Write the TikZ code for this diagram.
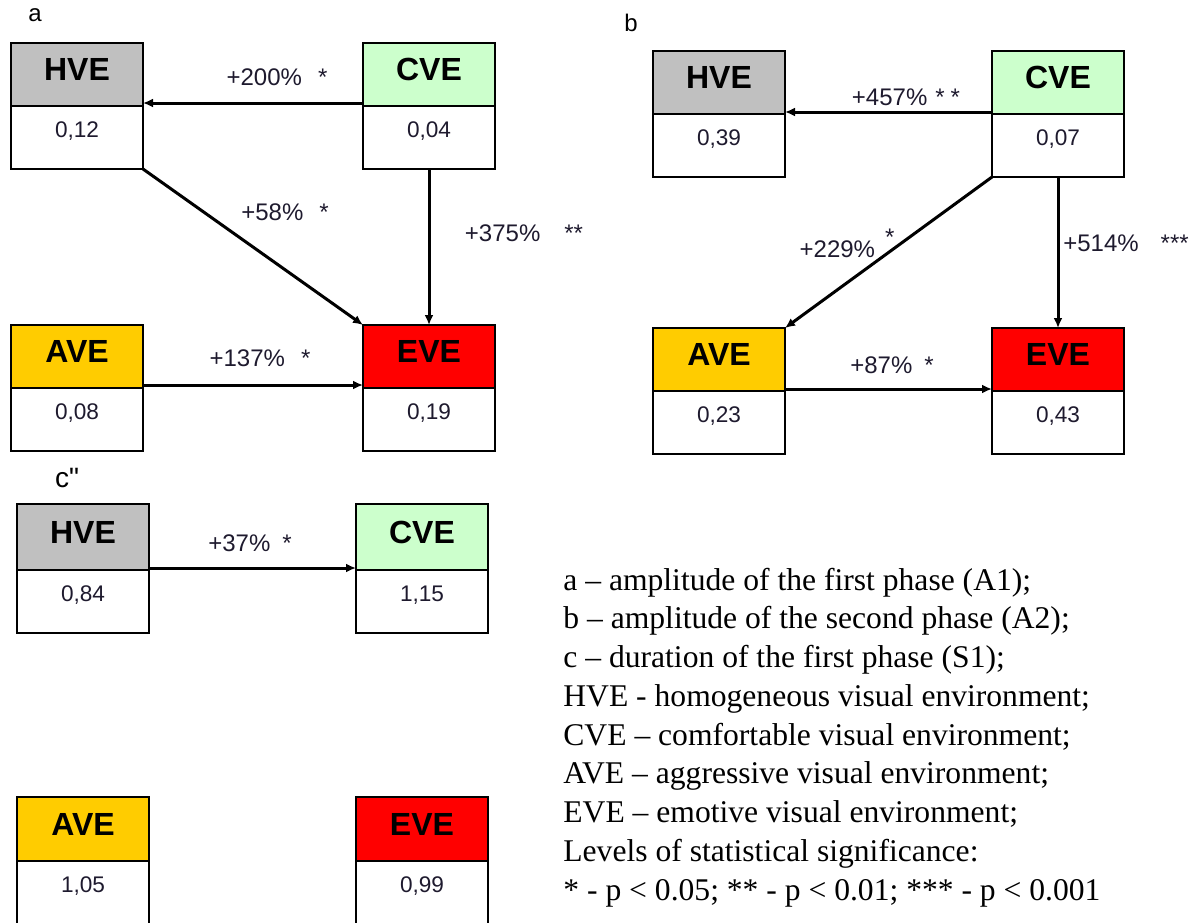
\documentclass[tikz,border=0pt]{standalone}
\usepackage{fontspec}
\setmainfont{Liberation Sans}
\newfontfamily\legendfont{Liberation Serif}
\newfontfamily\plainsans{Liberation Sans}[Ligatures=TeXOff]
\usetikzlibrary{arrows.meta,positioning,calc}
\definecolor{hvegrey}{HTML}{C0C0C0}
\definecolor{cvegreen}{HTML}{CCFFCC}
\definecolor{aveyellow}{HTML}{FFCC00}
\definecolor{evered}{HTML}{FF0000}
\definecolor{ink}{HTML}{1E1A2E}
\tikzset{
  envhead/.style={draw,line width=1pt,minimum width=66pt,minimum height=31.5pt,
    inner sep=0pt,outer sep=0pt,text depth=5pt,anchor=north west,
    font=\fontsize{16}{18}\selectfont\bfseries},
  envval/.style={draw,line width=1pt,fill=white,minimum width=66pt,minimum height=31.5pt,
    inner xsep=0pt,inner ysep=3pt,text height=12.75pt,text depth=12.75pt,outer sep=0pt,
    font=\fontsize{11.3}{13}\selectfont,text=ink},
  arrow/.style={-{Latex[length=5pt,width=4.5pt]},line width=1.5pt},
  pct/.style={font=\fontsize{12}{14}\selectfont,text=ink,inner sep=0pt},
  panel/.style={font=\fontsize{12}{14}\selectfont,inner sep=0pt},
  legend/.style={font=\legendfont\fontsize{15.8}{19}\selectfont,anchor=base west,inner sep=0pt}
}
\begin{document}
\begin{tikzpicture}[x=0.5pt,y=-0.5pt,node distance=0pt]
\useasboundingbox (0,0) rectangle (1193,922);

% a
\node[panel] (la) at (35,15) {a};
\node[envhead,fill=hvegrey] (hveA) at (11,43) {HVE};
\node[envval,below=of hveA] (hveAval) {0,12};
\node[envhead,fill=cvegreen] (cveA) at (363,43) {CVE};
\node[envval,below=of cveA] (cveAval) {0,04};
\node[envhead,fill=aveyellow] (aveA) at (11,325) {AVE};
\node[envval,below=of aveA] (aveAval) {0,08};
\node[envhead,fill=evered] (eveA) at (363,325) {EVE};
\node[envval,below=of eveA] (eveAval) {0,19};
\draw[arrow] ($(cveA.south west)+(0,1.5pt)$) -- ($(hveA.south east)+(0,1.5pt)$);
\draw[arrow] (hveAval.south east) -- (eveA.north west);
\draw[arrow] (cveAval.south) -- (eveA.north);
\draw[arrow] ($(aveA.south east)+(0,1.5pt)$) -- ($(eveA.south west)+(0,1.5pt)$);
\node[pct] (pA1) at (277,77) {+200\%\hspace{8pt}*};
\node[pct] (pA2) at (285,212) {+58\%\hspace{8pt}*};
\node[pct] (pA3) at (524,233) {+375\%\hspace{12pt}**};
\node[pct] (pA4) at (260,358) {+137\%\hspace{8pt}*};

% b
\node[panel] (lb) at (631,23) {b};
\node[envhead,fill=hvegrey] (hveB) at (653,51) {HVE};
\node[envval,below=of hveB] (hveBval) {0,39};
\node[envhead,fill=cvegreen] (cveB) at (992,51) {CVE};
\node[envval,below=of cveB] (cveBval) {0,07};
\node[envhead,fill=aveyellow] (aveB) at (653,328) {AVE};
\node[envval,below=of aveB] (aveBval) {0,23};
\node[envhead,fill=evered] (eveB) at (992,328) {EVE};
\node[envval,below=of eveB] (eveBval) {0,43};
\draw[arrow] ($(cveB.south west)+(0,1pt)$) -- ($(hveB.south east)+(0,1pt)$);
\draw[arrow] (cveBval.south west) -- (aveB.north east);
\draw[arrow] (cveBval.south) -- (eveB.north);
\draw[arrow] ($(aveB.south east)+(0,1pt)$) -- ($(eveB.south west)+(0,1pt)$);
\node[pct] (pB1) at (906,97) {+457\%\hspace{4pt}*\hspace{3pt}*};
\node[pct] (pB2) at (847,243) {+229\%\hspace{5pt}\raisebox{6pt}{*}};
\node[pct] (pB3) at (1126,243) {+514\%\hspace{11pt}***};
\node[pct] (pB4) at (892,365) {+87\%\hspace{6pt}*};

% c
\node[panel,font=\plainsans\fontsize{14}{16}\selectfont] (lc) at (67,478) {c"};
\node[envhead,fill=hvegrey,minimum height=33pt] (hveC) at (17,504) {HVE};
\node[envval,below=of hveC] (hveCval) {0,84};
\node[envhead,fill=cvegreen,minimum height=33pt] (cveC) at (356,504) {CVE};
\node[envval,below=of cveC] (cveCval) {1,15};
\node[envhead,fill=aveyellow,minimum height=32pt] (aveC) at (17,797) {AVE};
\node[envval,below=of aveC] (aveCval) {1,05};
\node[envhead,fill=evered,minimum height=32pt] (eveC) at (356,797) {EVE};
\node[envval,below=of eveC] (eveCval) {0,99};
\draw[arrow] ($(hveC.south east)+(0,1pt)$) -- ($(cveC.south west)+(0,1pt)$);
\node[pct] (pC1) at (250,543) {+37\%\hspace{6pt}*};

% legend
\foreach \txt [count=\i] in {
  a – amplitude of the first phase (A1);,
  b – amplitude of the second phase (A2);,
  c – duration of the first phase (S1);,
  HVE - homogeneous visual environment;,
  CVE – comfortable visual environment;,
  AVE – aggressive visual environment;,
  EVE – emotive visual environment;,
  Levels of statistical significance:,
  * - p < 0.05; ** - p < 0.01; *** - p < 0.001}
  \node[legend] (leg\i) at (563,{590+38.75*(\i-1)}) {\txt};
\end{tikzpicture}
\end{document}
